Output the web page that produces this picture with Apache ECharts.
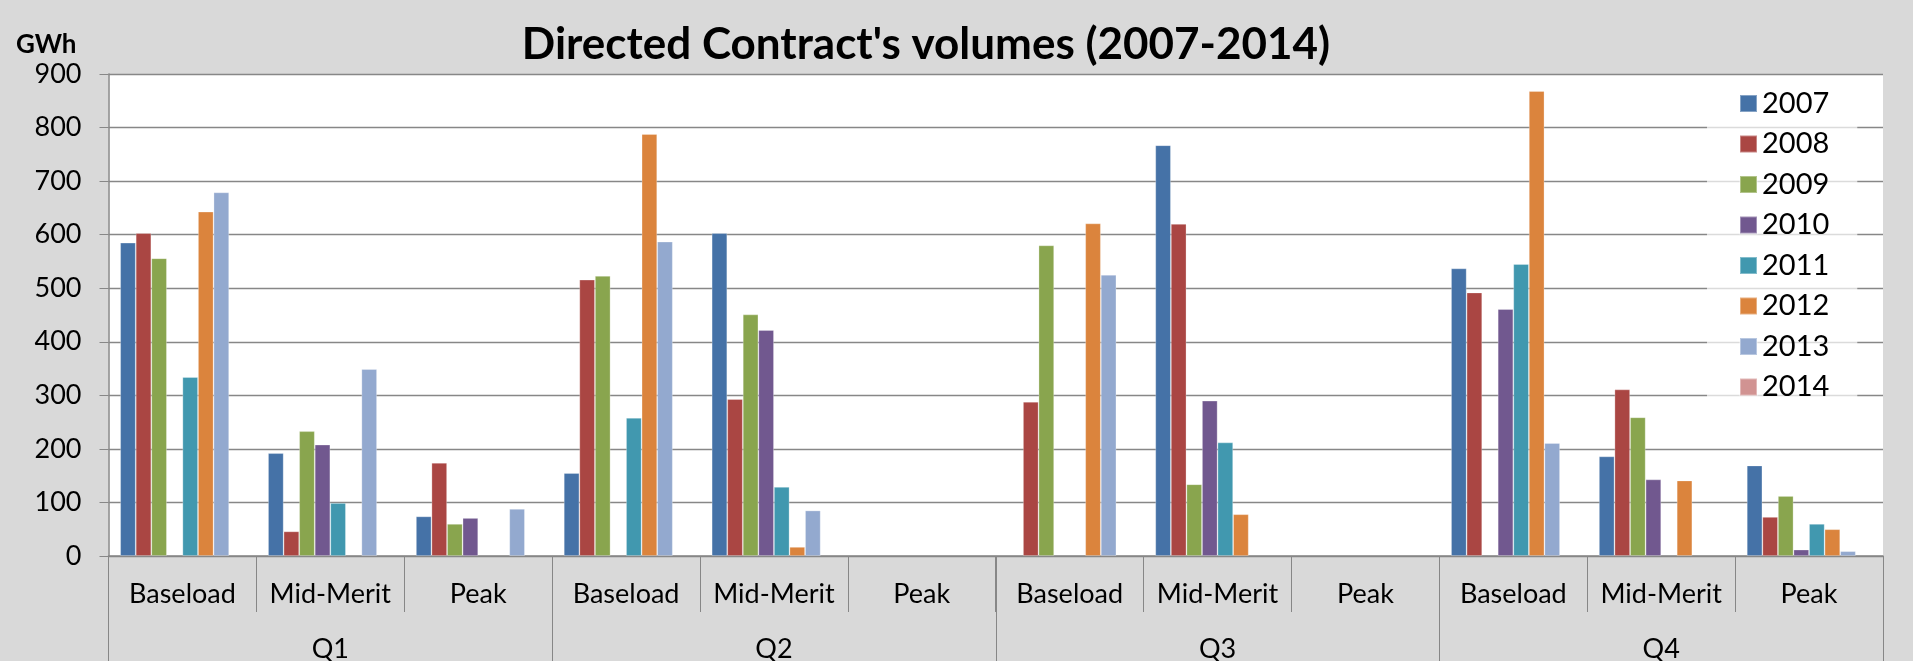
<!DOCTYPE html>
<html>
<head>
<meta charset="utf-8">
<title>Directed Contract's volumes (2007-2014)</title>
<script src="https://cdn.jsdelivr.net/npm/echarts@6/dist/echarts.min.js"></script>
<style>
  html, body { margin: 0; padding: 0; background: #d9d9d9; }
  #chart { width: 1913px; height: 661px; }
</style>
</head>
<body>
<div id="chart"></div>
<script>
// Contract types within each quarter, and the quarters themselves
const products = ['Baseload', 'Mid-Merit', 'Peak'];
const quarters = ['Q1', 'Q2', 'Q3', 'Q4'];
const years = ['2007', '2008', '2009', '2010', '2011', '2012', '2013', '2014'];

// Volumes in GWh, ordered Q1 Baseload, Q1 Mid-Merit, Q1 Peak, Q2 Baseload, ... Q4 Peak
const v2007 = [585, 192, 74, 155, 603, null, null, 767, null, 537, 186, 169];
const v2008 = [603, 46, 174, 516, 293, null, 288, 620, null, 492, 311, 73];
const v2009 = [556, 233, 60, 523, 451, null, 580, 134, null, null, 259, 112];
const v2010 = [null, 208, 71, null, 422, null, null, 290, null, 461, 143, 12];
const v2011 = [334, 99, null, 258, 129, null, null, 212, null, 545, null, 60];
const v2012 = [643, null, null, 788, 17, null, 621, 78, null, 868, 141, 50];
const v2013 = [679, 349, 88, 587, 85, null, 525, null, null, 211, null, 9];
const v2014 = [null, null, null, null, null, null, null, null, null, null, null, null];

const yTicks = { min: 0, max: 900, step: 100 };

const volumes = [v2007, v2008, v2009, v2010, v2011, v2012, v2013, v2014];
const palette = ['#4572A7', '#AA4643', '#89A54E', '#71588F', '#4198AF', '#DB843D', '#93A9CF', '#D19392'];

const subLabels = [];
quarters.forEach(() => products.forEach(p => subLabels.push(p)));

const FONT = 'Lato, "Open Sans", sans-serif';
const GREY = '#878787';

const chart = echarts.init(document.getElementById('chart'), null, { renderer: 'canvas' });

chart.setOption({
  backgroundColor: '#d9d9d9',
  animation: false,
  color: palette,
  textStyle: { fontFamily: FONT, color: '#000' },
  graphic: [
    {
      type: 'text',
      x: 926, y: 45,
      style: {
        text: "Directed Contract's volumes (2007-2014)",
        font: 'bold 44px ' + FONT,
        fill: '#000',
        textAlign: 'center',
        textVerticalAlign: 'middle'
      }
    },
    {
      type: 'text',
      x: 16, y: 45,
      style: {
        text: 'GWh',
        font: 'bold 26px ' + FONT,
        fill: '#000',
        textAlign: 'left',
        textVerticalAlign: 'middle'
      }
    }
  ],
  legend: {
    orient: 'vertical',
    left: 1707,
    top: 77,
    padding: [12, 28, 13, 32],
    backgroundColor: 'rgba(255,255,255,0.7)',
    itemWidth: 17,
    itemHeight: 17,
    itemGap: 11.5,
    itemTextGap: 8,
    icon: 'rect',
    textStyle: { fontFamily: FONT, fontSize: 29, lineHeight: 29, color: '#000' },
    data: years
  },
  grid: {
    left: 108.5,
    right: 30,
    top: 74,
    bottom: 105,
    show: true,
    backgroundColor: '#ffffff',
    borderWidth: 0,
    containLabel: false,
    outerBoundsMode: 'none'
  },
  xAxis: [
    {
      type: 'category',
      data: subLabels,
      position: 'bottom',
      axisLine: { show: true, lineStyle: { color: GREY, width: 1.5 } },
      axisTick: { show: true, interval: 0, length: 56, alignWithLabel: false, lineStyle: { color: GREY, width: 1 } },
      axisLabel: { interval: 0, margin: 25, fontSize: 27, fontFamily: FONT, color: '#000' },
      splitLine: { show: false }
    },
    {
      type: 'category',
      data: quarters,
      position: 'bottom',
      axisLine: { show: false },
      axisTick: { show: true, interval: 0, length: 110, alignWithLabel: false, lineStyle: { color: GREY, width: 1 } },
      axisLabel: { interval: 0, margin: 80, fontSize: 27, fontFamily: FONT, color: '#000' },
      splitLine: { show: false }
    }
  ],
  yAxis: {
    type: 'value',
    min: yTicks.min,
    max: yTicks.max,
    interval: yTicks.step,
    axisLine: { show: true, lineStyle: { color: GREY, width: 1.5 } },
    axisTick: { show: true, inside: false, length: 9, lineStyle: { color: GREY, width: 1 } },
    axisLabel: { margin: 27, fontSize: 27, fontFamily: FONT, color: '#000' },
    splitLine: { show: true, lineStyle: { color: GREY, width: 1.3 } }
  },
  series: years.map((y, i) => ({
    name: y,
    type: 'bar',
    xAxisIndex: 0,
    data: volumes[i],
    barGap: '0%',
    barCategoryGap: '15.8%',
    itemStyle: { color: palette[i], borderColor: 'rgba(255,255,255,0.35)', borderWidth: 0.8 }
  }))
});
</script>
</body>
</html>
